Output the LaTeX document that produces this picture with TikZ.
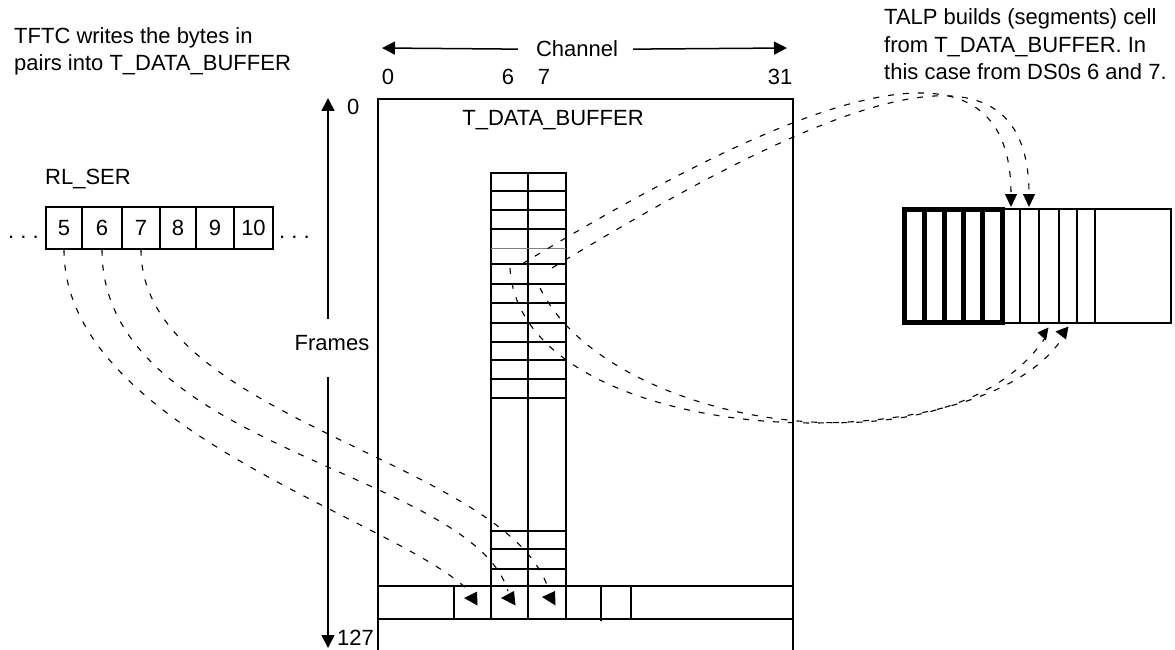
\documentclass[tikz,border=0pt]{standalone}
\usepackage{fontspec}
\setmainfont{Liberation Sans}
\usetikzlibrary{arrows.meta,calc}
\newcommand\lblfont{\fontsize{22}{27}\selectfont}
\begin{document}
\begin{tikzpicture}[x=1pt,y=-1pt,
  boxline/.style={line width=1.5pt, line join=miter},
  thickline/.style={line width=5pt, line join=miter, line cap=rect},
  dsh/.style={dash pattern=on 6pt off 9pt, line width=1.1pt},
  lbl/.style={font=\lblfont, inner sep=0pt},
  axis/.style={line width=1.5pt, -{Triangle[length=13pt,width=13pt]}},
  dtip/.style={dsh, -{Triangle[length=13pt,width=12pt]}},
  cellbox/.style={draw, boxline, font=\lblfont, inner sep=0pt, minimum height=42pt},
  head/.style={fill=black}
]
\useasboundingbox (0,0) rectangle (1175,650);

% ---------- texts ----------
\node[lbl, anchor=base west] (tl1) at (14,44) {TFTC writes the bytes in};
\node[lbl, anchor=base west] (tl2) at (14,71) {pairs into T\_DATA\_BUFFER};
\node[lbl, anchor=base west] (tr1) at (884,25) {TALP builds (segments) cell};
\node[lbl, anchor=base west] (tr2) at (884,52.5) {from T\_DATA\_BUFFER. In};
\node[lbl, anchor=base west] (tr3) at (884,80) {this case from DS0s 6 and 7.};

% ---------- channel axis ----------
\node[lbl, anchor=base] (ch) at (577,57) {Channel};
\coordinate (chL) at (382,48);
\coordinate (chR) at (787,48);
\draw[axis] ([xshift=-18pt]ch.west) -- (chL);
\draw[axis] ([xshift=15pt]ch.east) -- (chR);
\node[lbl, anchor=base] (n0) at (388,85) {0};
\node[lbl, anchor=base] (n6) at (508,85) {6};
\node[lbl, anchor=base] (n7) at (544,85) {7};
\node[lbl, anchor=base] (n31) at (780,85) {31};

% ---------- frames axis ----------
\node[lbl, anchor=base] (fr) at (332,350) {Frames};
\coordinate (fT) at (328,98);
\coordinate (fB) at (328,648);
\coordinate (fa) at (328,319);
\coordinate (fb) at (328,377);
\draw[axis] (fa) -- (fT);
\draw[axis] (fb) -- (fB);
\node[lbl, anchor=base west] (f0) at (347,115) {0};
\node[lbl, anchor=base west] (f127) at (337,645) {127};

% ---------- T_DATA_BUFFER box ----------
\draw[boxline] (378,652) -- (378,99) -- (793,99) -- (793,652);
\node[lbl, anchor=base] (tdb) at (553,126) {T\_DATA\_BUFFER};

% column of DS0s 6 and 7
\draw[boxline] (491,173) rectangle (566,586);
\draw[boxline] (528,173) -- (528,619);
\foreach \yy in {191,210,229,264,284,303,323,342,360,379,398,531,549,569}
  \draw[boxline] (491,\yy) -- (566,\yy);
\draw[line width=1pt, gray] (491,248) -- (566,248);

% frame row
\draw[boxline] (378,586) rectangle (793,619);
\draw[boxline] (454,586) -- (454,619);
\draw[boxline] (491,586) -- (491,619);
\draw[boxline] (566,586) -- (566,619);
\draw[boxline] (601,586) -- (601,621);
\draw[boxline] (631,586) -- (631,619);

% ---------- RL_SER ----------
\node[lbl, anchor=base west] (rl) at (45,184) {RL\_SER};
\node[cellbox, minimum width=36pt] (s5) at (64,228) {5};
\node[cellbox, minimum width=40pt] (s6) at (102,228) {6};
\node[cellbox, minimum width=38pt] (s7) at (141,228) {7};
\node[cellbox, minimum width=36pt] (s8) at (178,228) {8};
\node[cellbox, minimum width=38pt] (s9) at (215,228) {9};
\node[cellbox, minimum width=39pt] (s10) at (253.5,228) {10};
\node[lbl, anchor=base west] (dl) at (8,238) {.\ .\ .};
\node[lbl, anchor=base west] (dr) at (279,238) {.\ .\ .};

% ---------- cell (right) ----------
\draw[boxline] (1002.5,209) rectangle (1171,323);
\foreach \xx in {1020,1039,1059,1077,1095}
  \draw[boxline] (\xx,209) -- (\xx,323);
\draw[thickline] (904.5,209.5) rectangle (1002.5,322.5);
\foreach \xx in {924.5,944,963.5,982.5}
  \draw[line width=5pt] (\xx,209.5) -- (\xx,322.5);

% ---------- arrow heads ----------
\coordinate (hA) at (464,598);
\coordinate (hB) at (501,598);
\coordinate (hC) at (542,597);
\fill[head] (hA) -- (477,591.5) -- (477.5,605.5) -- cycle;
\fill[head] (hB) -- (514,591) -- (515.5,605.5) -- cycle;
\fill[head] (hC) -- (555,591) -- (555.5,605.5) -- cycle;
\coordinate (hR1) at (1037.5,332.5);
\coordinate (hR2) at (1055.5,331.5);
\fill[head] (hR1) -- (1048.5,327.5) -- (1046,340.5) -- cycle;
\fill[head] (hR2) -- (1068.5,326.5) -- (1066,339.5) -- cycle;

% ---------- curve end points ----------
\coordinate (eA) at (470,592);
\coordinate (eB) at (508,591);
\coordinate (eC) at (549,591);
\coordinate (e3) at (1063,337);
\coordinate (e4) at (1045,338);
\coordinate (eT1) at (1011,207);
\coordinate (eT2) at (1029,207);
\coordinate (o1) at (522,264);
\coordinate (o2) at (552,268);
\coordinate (o3) at (510,268);
\coordinate (o4) at (540,288);

% ---------- dashed curves ----------
\draw[dsh] (s5.south) .. controls (64,430) and (400,520) .. (eA);
\draw[dsh] (s6.south) .. controls (102,450) and (470,470) .. (eB);
\draw[dsh] (s7.south) .. controls (141,420) and (510,460) .. (eC);
\draw[dtip] (o1) .. controls (760,120) and (1011,0) .. (eT1);
\draw[dtip] (o2) .. controls (780,130) and (1029,0) .. (eT2);
\draw[dsh] (o3) .. controls (520,450) and (980,470) .. (e3);
\draw[dsh] (o4) .. controls (610,430) and (950,480) .. (e4);
\end{tikzpicture}
\end{document}
